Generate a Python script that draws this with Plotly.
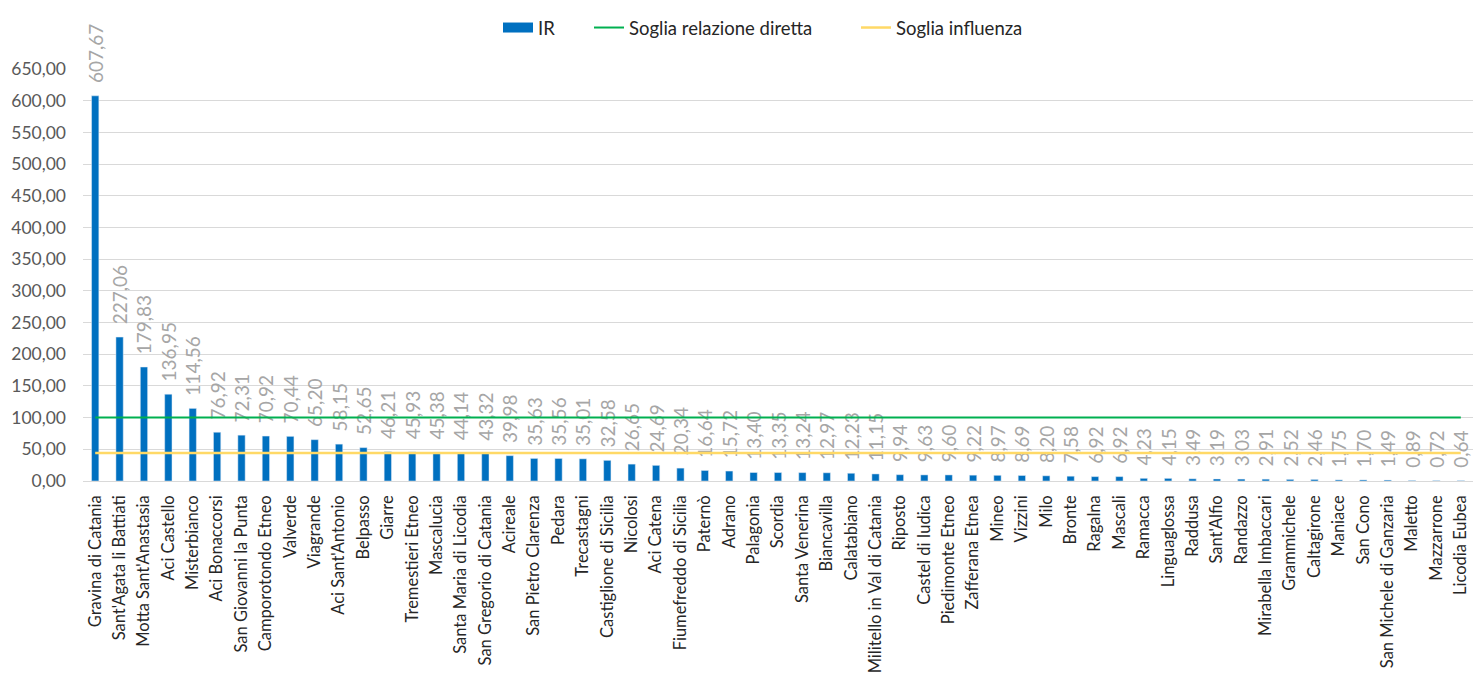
import plotly.graph_objects as go

comuni = [
    "Gravina di Catania", "Sant'Agata li Battiati", "Motta Sant'Anastasia", "Aci Castello",
    "Misterbianco", "Aci Bonaccorsi", "San Giovanni la Punta", "Camporotondo Etneo",
    "Valverde", "Viagrande", "Aci Sant'Antonio", "Belpasso", "Giarre", "Tremestieri Etneo",
    "Mascalucia", "Santa Maria di Licodia", "San Gregorio di Catania", "Acireale",
    "San Pietro Clarenza", "Pedara", "Trecastagni", "Castiglione di Sicilia", "Nicolosi",
    "Aci Catena", "Fiumefreddo di Sicilia", "Paternò", "Adrano", "Palagonia", "Scordia",
    "Santa Venerina", "Biancavilla", "Calatabiano", "Militello in Val di Catania", "Riposto",
    "Castel di Iudica", "Piedimonte Etneo", "Zafferana Etnea", "Mineo", "Vizzini", "Milo",
    "Bronte", "Ragalna", "Mascali", "Ramacca", "Linguaglossa", "Raddusa", "Sant'Alfio",
    "Randazzo", "Mirabella Imbaccari", "Grammichele", "Caltagirone", "Maniace", "San Cono",
    "San Michele di Ganzaria", "Maletto", "Mazzarrone", "Licodia Eubea",
]

ir = [
    607.67, 227.06, 179.83, 136.95, 114.56, 76.92, 72.31, 70.92, 70.44, 65.20,
    58.15, 52.65, 46.21, 45.93, 45.38, 44.14, 43.32, 39.98, 35.63, 35.56,
    35.01, 32.58, 26.65, 24.69, 20.34, 16.64, 15.72, 13.40, 13.35, 13.24,
    12.97, 12.23, 11.15, 9.94, 9.63, 9.60, 9.22, 8.97, 8.69, 8.20,
    7.58, 6.92, 6.92, 4.23, 4.15, 3.49, 3.19, 3.03, 2.91, 2.52,
    2.46, 1.75, 1.70, 1.49, 0.89, 0.72, 0.64,
]

soglia_relazione_diretta = 100
soglia_influenza = 44

y_ticks = list(range(0, 651, 50))

BLU = "#0070C0"
VERDE = "#00B050"
GIALLO = "#FFD966"
FONT = "Lato"
W, H = 1481, 681

# value labels, padded so they sit a little above the bar tops
etichette = ["\u00a0\u00a0" + f"{v:.2f}".replace(".", ",") for v in ir]

fig = go.Figure()

fig.add_trace(go.Bar(
    x=comuni, y=ir, name="IR", marker_color=BLU, showlegend=False,
    text=etichette, texttemplate="%{text}",
    textposition="outside", textangle=-90, constraintext="none", cliponaxis=False,
    textfont=dict(family=FONT, size=19, color="#A6A6A6"),
))
# legend entry for the bars, drawn as a wide block
fig.add_trace(go.Scatter(
    x=[None], y=[None], mode="lines", name="IR", legend="legend",
    line=dict(color=BLU, width=10),
))
fig.add_trace(go.Scatter(
    x=comuni, y=[soglia_relazione_diretta] * len(comuni), mode="lines",
    name="Soglia relazione diretta", legend="legend2",
    line=dict(color=VERDE, width=2),
))
fig.add_trace(go.Scatter(
    x=comuni, y=[soglia_influenza] * len(comuni), mode="lines",
    name="Soglia influenza", legend="legend3",
    line=dict(color=GIALLO, width=2.5),
))


def legenda(x_px):
    return dict(
        orientation="h", x=x_px / W, xanchor="left", xref="container",
        y=1 - 28 / H, yref="container", yanchor="middle",
        font=dict(family=FONT, size=18.5, color="#262626"),
        bgcolor="rgba(0,0,0,0)",
    )


fig.update_layout(
    width=W, height=H,
    margin=dict(l=83, r=8, t=69, b=198),
    paper_bgcolor="white", plot_bgcolor="white",
    separators=",.",
    bargap=0.7,
    font=dict(family=FONT, size=15, color="#404040"),
    legend=legenda(498),
    legend2=legenda(589),
    legend3=legenda(856),
    xaxis=dict(
        tickangle=-90, tickfont=dict(size=16.5, color="#262626"),
        showgrid=False, showline=False, ticks="", ticklabelstandoff=10,
    ),
    yaxis=dict(
        range=[0, 650], tickvals=y_ticks, tickformat=".2f",
        tickfont=dict(size=17.5, color="#595959"),
        showgrid=True, gridcolor="#D9D9D9", gridwidth=1,
        zeroline=True, zerolinecolor="#D9D9D9", zerolinewidth=1,
        ticks="", ticklabelstandoff=16,
    ),
)

fig.write_html("out.html")
